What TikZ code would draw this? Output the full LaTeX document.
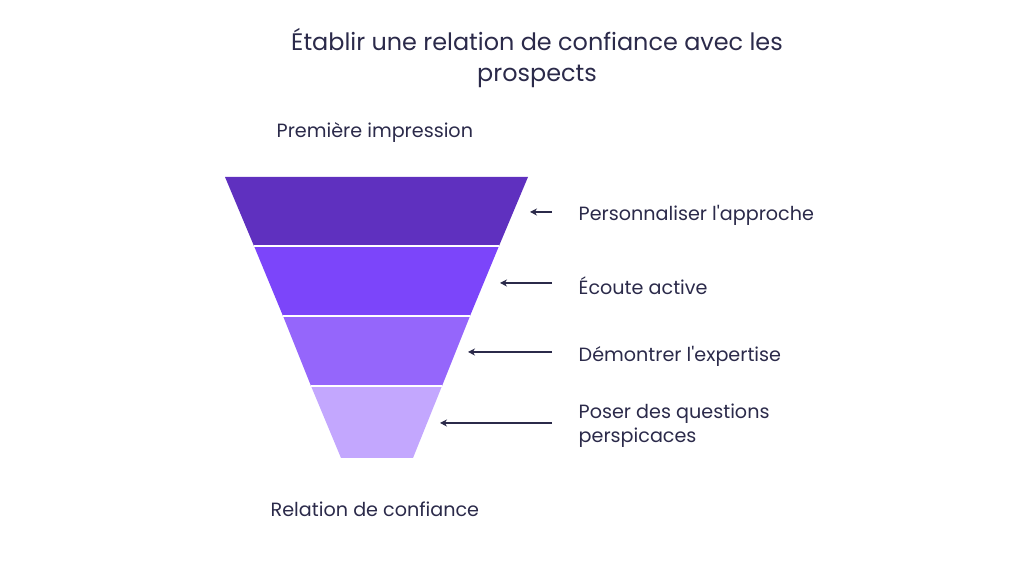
\documentclass[tikz,border=0pt]{standalone}
\usepackage{fontspec}
\setmainfont{Poppins}
\usetikzlibrary{positioning,calc,arrows.meta}
\definecolor{ink}{HTML}{2B2A4A}
\definecolor{bandA}{HTML}{5F30BF}
\definecolor{bandB}{HTML}{7C45FA}
\definecolor{bandC}{HTML}{9566FB}
\definecolor{bandD}{HTML}{C3A7FE}
\tikzset{
  label/.style={text=ink,font=\fontsize{5.45pt}{6.8pt}\selectfont,anchor=west,align=left,inner sep=0pt},
  pointer/.style={draw=ink,line width=0.3pt,-{Stealth[length=2pt,width=2pt]}}
}
\begin{document}
\begin{tikzpicture}[x=0.01cm,y=-0.01cm]
\useasboundingbox (0,0) rectangle (1024,577);

% title
\node [text=ink,font=\fontsize{6.8pt}{8.6pt}\selectfont,align=center] (title) at (537,58) {Établir une relation de confiance avec les\\prospects};
\node [label] (top) at (276,133) {Première impression};
\node [label] (bottom) at (270,509) {Relation de confiance};

% funnel
\fill [bandA] (225,177) -- (528,177) -- (499,246) -- (254,246) -- cycle;
\fill [bandB] (254,246) -- (499,246) -- (470,316) -- (283,316) -- cycle;
\fill [bandC] (283,316) -- (470,316) -- (442,386) -- (311,386) -- cycle;
\fill [bandD] (311,386) -- (442,386) -- (413,458) -- (341,458) -- cycle;
\draw [white,line width=0.4pt] (254,246) -- (499,246) (283,316) -- (470,316) (311,386) -- (442,386);

\coordinate (edgeA) at (530,212);
\coordinate (edgeB) at (500,283);
\coordinate (edgeC) at (468,352);
\coordinate (edgeD) at (440,423);

% labels
\node [label] (stepA) at (578,215) {Personnaliser l\textquotesingle approche};
\node [label] (stepB) at (578,286) {Écoute active};
\node [label] (stepC) at (578,356) {Démontrer l\textquotesingle expertise};
\node [label] (stepD) at (578,426) {Poser des questions\\perspicaces};

\draw [pointer] ($(edgeA -| stepA.west)+(-26,0)$) -- (edgeA);
\draw [pointer] ($(edgeB -| stepB.west)+(-26,0)$) -- (edgeB);
\draw [pointer] ($(edgeC -| stepC.west)+(-26,0)$) -- (edgeC);
\draw [pointer] ($(edgeD -| stepD.west)+(-26,0)$) -- (edgeD);
\end{tikzpicture}
\end{document}
